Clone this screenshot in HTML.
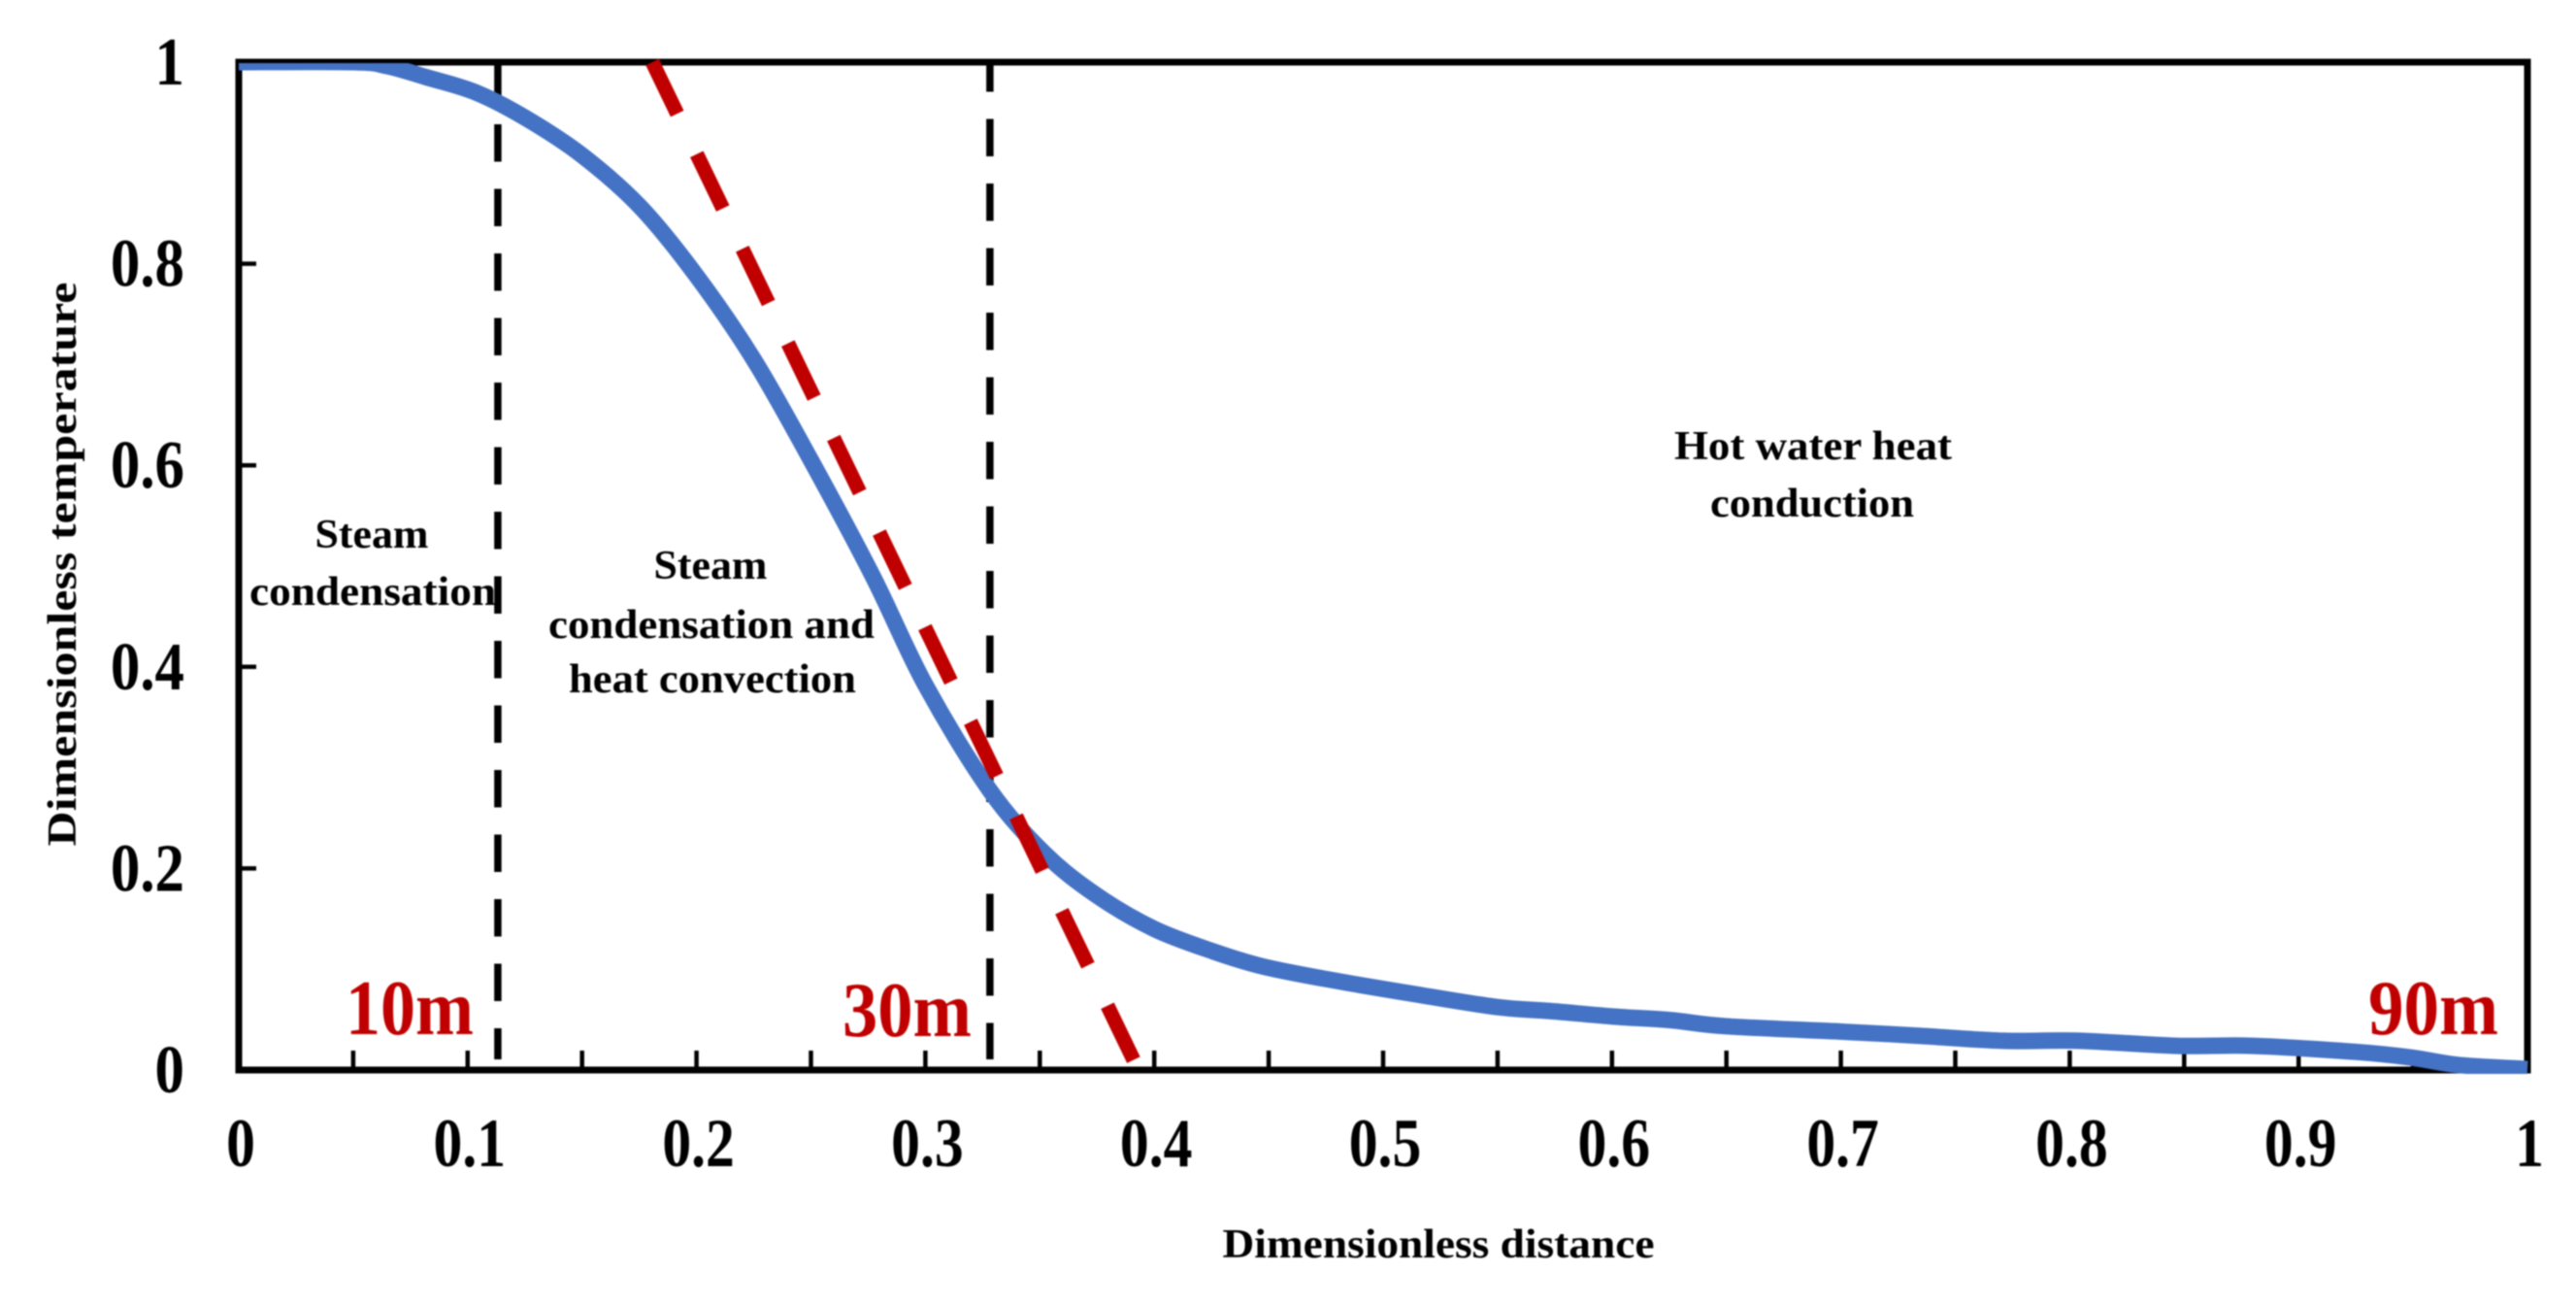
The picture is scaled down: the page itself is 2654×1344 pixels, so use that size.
<!DOCTYPE html>
<html>
<head>
<meta charset="utf-8">
<title>Dimensionless temperature vs distance</title>
<style>
html,body{margin:0;padding:0;background:#fff;width:2654px;height:1344px;overflow:hidden}
svg{display:block;filter:blur(0.9px)}
text{font-family:"Liberation Serif",serif;font-weight:bold;fill:#000}
</style>
</head>
<body>
<svg id="chart" xmlns="http://www.w3.org/2000/svg" width="2654" height="1344" viewBox="0 0 2654 1344">
<rect x="0" y="0" width="2654" height="1344" fill="#fff"/>
<defs><clipPath id="plotClip"><rect x="243" y="65" width="2365" height="1041"/></clipPath></defs>
<g id="grid"></g>
<g id="marks"></g>
<g id="labels"></g>

<text transform="translate(78,581) rotate(-90)" text-anchor="middle" font-size="42" textLength="581" lengthAdjust="spacingAndGlyphs">Dimensionless temperature</text>
<text x="1482" y="1295" text-anchor="middle" font-size="42" textLength="445" lengthAdjust="spacingAndGlyphs">Dimensionless distance</text>

<text x="383" y="564" text-anchor="middle" font-size="42" textLength="117" lengthAdjust="spacingAndGlyphs">Steam</text>
<text x="384" y="623" text-anchor="middle" font-size="42" textLength="254" lengthAdjust="spacingAndGlyphs">condensation</text>
<text x="732" y="596" text-anchor="middle" font-size="42" textLength="117" lengthAdjust="spacingAndGlyphs">Steam</text>
<text x="733" y="657" text-anchor="middle" font-size="42" textLength="336" lengthAdjust="spacingAndGlyphs">condensation and</text>
<text x="734" y="713" text-anchor="middle" font-size="42" textLength="296" lengthAdjust="spacingAndGlyphs">heat convection</text>
<text x="1868" y="473" text-anchor="middle" font-size="42" textLength="286" lengthAdjust="spacingAndGlyphs">Hot water heat</text>
<text x="1867" y="532" text-anchor="middle" font-size="42" textLength="210" lengthAdjust="spacingAndGlyphs">conduction</text>

<text x="356" y="1065" font-size="81" style="fill:#c00000" textLength="132" lengthAdjust="spacingAndGlyphs">10m</text>
<text x="868" y="1067" font-size="81" style="fill:#c00000" textLength="133" lengthAdjust="spacingAndGlyphs">30m</text>
<text x="2440" y="1065" font-size="81" style="fill:#c00000" textLength="134" lengthAdjust="spacingAndGlyphs">90m</text>
</svg>
<script>
const curveX = [0,0.05,0.065,0.082,0.1035,0.125,0.15,0.1756,0.2,0.225,0.25,0.277,0.3,0.328,0.352,0.375,0.4,0.426,0.447,0.4745,0.512,0.549,0.573,0.601,0.6255,0.65,0.701,0.734,0.771,0.804,0.847,0.88,0.925,0.949,0.97,1];
const curveY = [1,1,0.996,0.985,0.97,0.945,0.9075,0.856,0.788,0.705,0.605,0.49,0.382,0.278,0.215,0.173,0.14,0.1175,0.103,0.0905,0.076,0.0627,0.0585,0.053,0.0495,0.0434,0.038,0.034,0.029,0.029,0.024,0.024,0.018,0.0125,0.005,0.001];
const tangentX = [0.1807,0.3914];
const tangentY = [1,0.008];
const boundaryX = [0.1132,0.3282];
const xTickValues = [0,0.05,0.1,0.15,0.2,0.25,0.3,0.35,0.4,0.45,0.5,0.55,0.6,0.65,0.7,0.75,0.8,0.85,0.9,0.95,1];
const xTickLabels = ['0','','0.1','','0.2','','0.3','','0.4','','0.5','','0.6','','0.7','','0.8','','0.9','','1'];
const yTickValues = [0,0.2,0.4,0.6,0.8,1];
const yTickLabels = ['0','0.2','0.4','0.6','0.8','1'];

const NS = 'http://www.w3.org/2000/svg';
const plotLeft = 246, plotRight = 2604, plotTop = 64, plotBottom = 1102;
function sx(v){ return plotLeft + v * (plotRight - plotLeft); }
function sy(v){ return plotBottom - v * (plotBottom - plotTop); }
function mk(tag, attrs, parent){
  const el = document.createElementNS(NS, tag);
  for (const k in attrs) el.setAttribute(k, attrs[k]);
  parent.appendChild(el);
  return el;
}
const grid = document.getElementById('grid');
const marks = document.getElementById('marks');
const labels = document.getElementById('labels');

const frame = mk('rect', {x:plotLeft, y:plotTop, width:plotRight-plotLeft, height:plotBottom-plotTop, fill:'none', stroke:'#000', 'stroke-width':7}, grid);



xTickValues.forEach(function(v, i){
  if (v > 0 && v < 1) {
    const t = mk('line', {x1:sx(v), x2:sx(v), y1:plotBottom, y2:plotBottom-20, stroke:'#000', 'stroke-width':4.5}, grid);
    
    
  }
  if (xTickLabels[i]) {
    const l = mk('text', {'text-anchor':'middle', 'font-size':71, transform:'translate(' + (sx(v)+2) + ',1201) scale(0.84,1)'}, labels);
    l.textContent = xTickLabels[i];
    
    
  }
});
yTickValues.forEach(function(v, i){
  if (v > 0 && v < 1) {
    const t = mk('line', {x1:plotLeft, x2:plotLeft+18, y1:sy(v), y2:sy(v), stroke:'#000', 'stroke-width':4.5}, grid);
    
    
  }
  const l = mk('text', {'text-anchor':'end', 'font-size':70, transform:'translate(190,' + (sy(v)+23) + ') scale(0.87,1)'}, labels);
  l.textContent = yTickLabels[i];
  
  
});

boundaryX.forEach(function(v, i){
  const b = mk('line', {x1:sx(v), x2:sx(v), y1:plotTop, y2:1091, stroke:'#000', 'stroke-width':7.5, 'stroke-dasharray':'38.5 28', 'stroke-dashoffset': i === 0 ? 2.5 : 8}, marks);
  
  
});

const pts = curveX.map(function(v, i){ return [sx(v), sy(curveY[i])]; });
let d = 'M' + pts[0][0] + ' ' + pts[0][1];
for (let i = 0; i < pts.length - 1; i++) {
  const p0 = pts[Math.max(i-1,0)], p1 = pts[i], p2 = pts[i+1], p3 = pts[Math.min(i+2,pts.length-1)];
  d += ' C' + (p1[0]+(p2[0]-p0[0])/6) + ' ' + (p1[1]+(p2[1]-p0[1])/6) + ' ' + (p2[0]-(p3[0]-p1[0])/6) + ' ' + (p2[1]-(p3[1]-p1[1])/6) + ' ' + p2[0] + ' ' + p2[1];
}
const tangent = mk('line', {x1:sx(tangentX[0]), y1:sy(tangentY[0]), x2:sx(tangentX[1]), y2:sy(tangentY[1]), stroke:'#c00000', 'stroke-width':15, 'stroke-dasharray':'62 46.2', 'stroke-dashoffset':3}, marks);


const curve = mk('path', {d:d, fill:'none', stroke:'#4472c4', 'stroke-width':17, 'stroke-linejoin':'round', 'clip-path':'url(#plotClip)'}, marks);


marks.appendChild(tangent);
</script>
</body>
</html>
